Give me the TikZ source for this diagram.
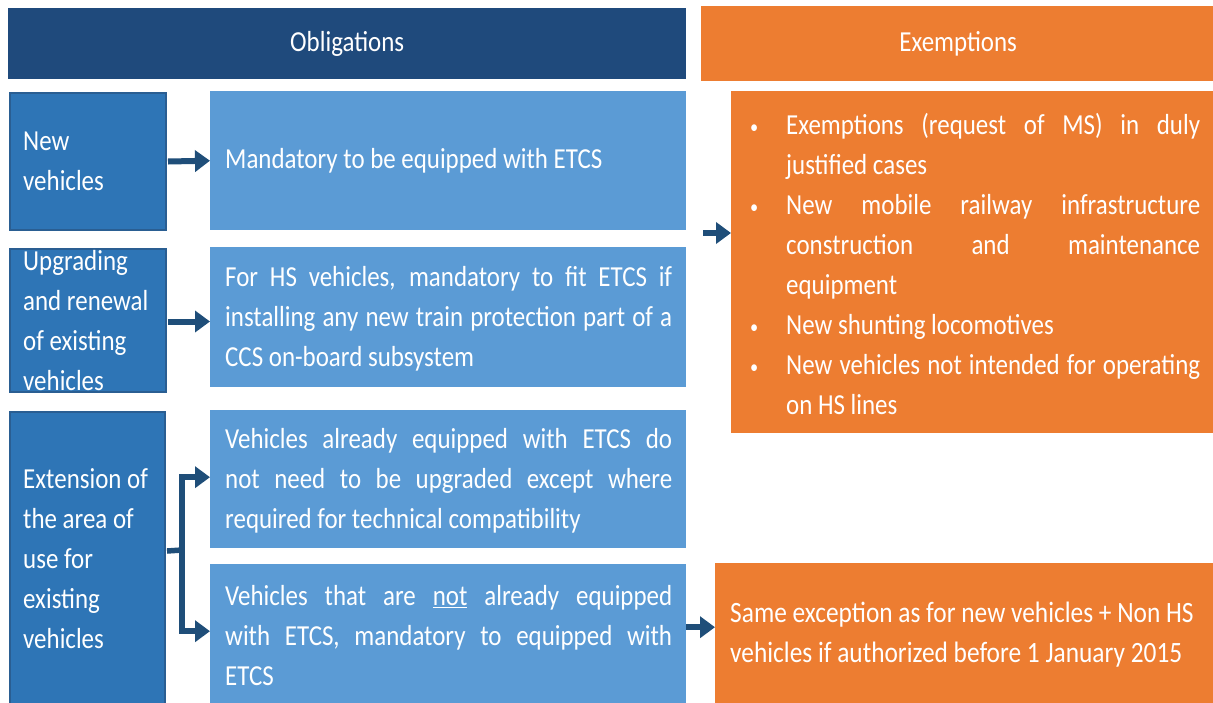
\documentclass[tikz,border=0pt]{standalone}
\usepackage{fontspec}
\setmainfont{Carlito}[FakeStretch=0.86]
\usetikzlibrary{arrows.meta,calc}
\definecolor{hdrblue}{HTML}{1F4A7C}
\definecolor{midblue}{HTML}{2E75B6}
\definecolor{midedge}{HTML}{2A5E92}
\definecolor{lightblue}{HTML}{5B9BD5}
\definecolor{orng}{HTML}{ED7D31}
\definecolor{arrowblue}{HTML}{1F4E79}
\newcommand{\mybul}{\noindent\makebox[36pt][l]{\raisebox{1pt}{\fontsize{19}{19}\selectfont\textbullet}}}
\tikzset{
  bx/.style={rectangle, inner sep=0pt, anchor=north west},
  hdr/.style={bx, fill=hdrblue, text=white},
  lbox/.style={bx, fill=midblue, draw=midedge, line width=2pt},
  rbox/.style={bx, fill=lightblue},
  obox/.style={bx, fill=orng},
  txt/.style={inner sep=0pt, text=white, font=\fontsize{29}{40}\selectfont},
  jtxt/.style={txt, text width=447pt, align=justify, anchor=west},
  ltxt/.style={txt, align=left, anchor=west},
  arr/.style={draw=arrowblue, line width=6pt, -{Triangle[length=15pt,width=21pt]}},
  ln/.style={draw=arrowblue, line width=5.5pt},
}
\begin{document}
\begin{tikzpicture}[x=1pt,y=-1pt]
\useasboundingbox (0,0) rectangle (1213,702);
\clip (0,0) rectangle (1213,702);
\fill[white] (0,0) rectangle (1213,702);
% headers
\node[hdr, minimum width=678pt, minimum height=71pt] (hob) at (8,8) {};
\node[txt] (hobt) at (hob.center) {Obligations};
\node[obox, minimum width=514pt, minimum height=75pt] (hex) at (701,6) {};
\node[txt] (hext) at (hex.center) {Exemptions};
% left boxes
\node[lbox, minimum width=156pt, minimum height=137pt] (nv) at (9,92) {};
\node[ltxt] (nvt) at ([xshift=14pt]nv.west) {New\\vehicles};
\node[lbox, minimum width=156pt, minimum height=143pt] (up) at (9,248) {};
\node[ltxt] (upt) at ([xshift=14pt]up.west) {Upgrading\\and renewal\\of existing\\vehicles};
\node[lbox, minimum width=155pt, minimum height=294pt] (ex) at (9,411) {};
\node[ltxt] (ext) at ([xshift=14pt]ex.west) {Extension of\\the area of\\use for\\existing\\vehicles};
% obligation boxes
\node[rbox, minimum width=476pt, minimum height=139pt] (m1) at (210,91) {};
\node[ltxt] (m1t) at ([xshift=15pt]m1.west) {Mandatory to be equipped with ETCS};
\node[rbox, minimum width=476pt, minimum height=140pt] (m2) at (210,247) {};
\node[jtxt] (m2t) at ([xshift=15pt,yshift=-2pt]m2.west) {For HS vehicles, mandatory to fit ETCS if\linebreak installing any new train protection part of a\linebreak CCS on-board subsystem};
\node[rbox, minimum width=476pt, minimum height=138pt] (m3) at (210,410) {};
\node[jtxt] (m3t) at ([xshift=15pt,yshift=-2pt]m3.west) {Vehicles already equipped with ETCS do\linebreak not need to be upgraded except where\linebreak required for technical compatibility};
\node[rbox, minimum width=476pt, minimum height=142pt] (m4) at (210,564) {};
\node[jtxt] (m4t) at ([xshift=15pt]m4.west) {Vehicles that are \underline{not} already equipped\linebreak with ETCS, mandatory to equipped with\linebreak ETCS};
% exemption boxes
\node[obox, minimum width=484pt, minimum height=342pt] (e1) at (731,91) {};
\node[txt, text width=450pt, align=justify, anchor=west] (e1t) at ([xshift=19pt,yshift=-2pt]e1.west) {%
\hangindent=36pt\hangafter=1\mybul Exemptions (request of MS) in duly\linebreak justified cases\par
\hangindent=36pt\hangafter=1\mybul New mobile railway infrastructure\linebreak construction and maintenance\linebreak equipment\par
\hangindent=36pt\hangafter=1\mybul New shunting locomotives\par
\hangindent=36pt\hangafter=1\mybul New vehicles not intended for operating\linebreak on HS lines\par};
\node[obox, minimum width=500pt, minimum height=143pt] (e2) at (715,563) {};
\node[ltxt, font=\fontsize{29.5}{40}\selectfont] (e2t) at ([xshift=15pt]e2.west) {Same exception as for new vehicles + Non HS\\vehicles if authorized before 1 January 2015};
% connectors
\draw[arr] ([xshift=1pt]nv.east) -- (m1.west);
\draw[arr] ([xshift=1pt,yshift=-1pt]up.east) -- ([yshift=-1pt]up.east -| m2.west);
\coordinate (c1) at (703,233);
\draw[arr] (c1) -- (c1 -| e1.west);
\draw[arr] ([yshift=8pt]m4.east) -- ([yshift=8pt]m4.east -| e2.west);
\coordinate (j) at (182,550);
\draw[ln] ([xshift=1pt,yshift=8pt]ex.east) -- (j);
\draw[arr] (j) |- ([yshift=2pt]m3.west);
\draw[arr] (j) |- ([yshift=4pt]m4.west);
\end{tikzpicture}
\end{document}
